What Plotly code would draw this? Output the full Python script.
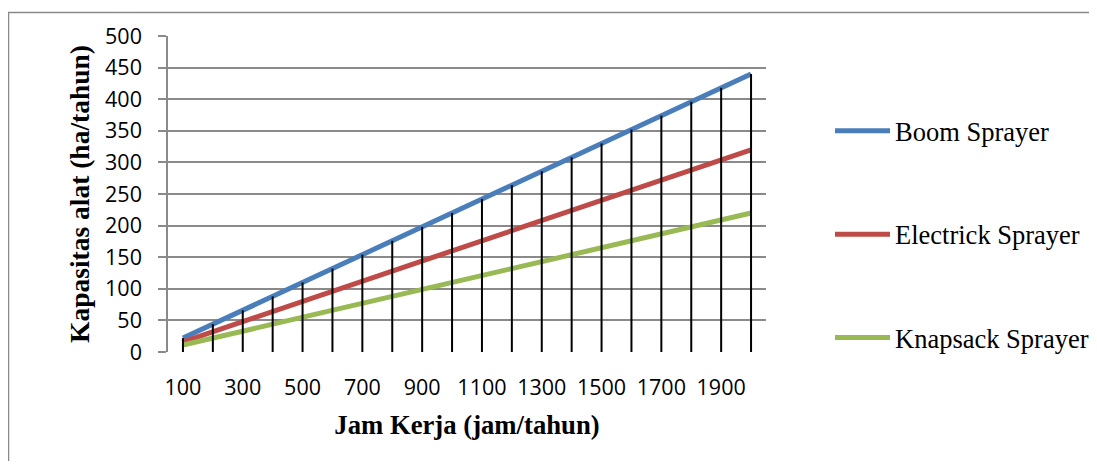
import plotly.graph_objects as go

jam_kerja = [100, 200, 300, 400, 500, 600, 700, 800, 900, 1000,
             1100, 1200, 1300, 1400, 1500, 1600, 1700, 1800, 1900, 2000]
boom = [22, 44, 66, 88, 110, 132, 154, 176, 198, 220,
        242, 264, 286, 308, 330, 352, 374, 396, 418, 440]
electrick = [16, 32, 48, 64, 80, 96, 112, 128, 144, 160,
             176, 192, 208, 224, 240, 256, 272, 288, 304, 320]
knapsack = [11, 22, 33, 44, 55, 66, 77, 88, 99, 110,
            121, 132, 143, 154, 165, 176, 187, 198, 209, 220]
x_ticks = [100, 300, 500, 700, 900, 1100, 1300, 1500, 1700, 1900]
y_ticks = [0, 50, 100, 150, 200, 250, 300, 350, 400, 450, 500]

series = [
    ("Boom Sprayer", boom, "#4A7EBB"),
    ("Electrick Sprayer", electrick, "#BE4B48"),
    ("Knapsack Sprayer", knapsack, "#98B954"),
]

fig = go.Figure()
for i, (name, vals, color) in enumerate(series):
    fig.add_trace(go.Scatter(
        x=jam_kerja, y=vals, mode="lines", name=name,
        line=dict(color=color, width=5),
        legendgroup=f"g{i}",
    ))

# drop lines from highest series down to the axis
dx, dy = [], []
for xv, yv in zip(jam_kerja, boom):
    dx += [xv, xv, None]
    dy += [0, yv, None]
fig.add_trace(go.Scatter(x=dx, y=dy, mode="lines", showlegend=False,
                         line=dict(color="black", width=2), hoverinfo="skip"))

grid = "#8A8A8A"
fig.update_layout(
    width=1081, height=453,
    margin=dict(l=160, r=323, t=28, b=109),
    paper_bgcolor="white", plot_bgcolor="white",
    font=dict(family="Liberation Serif", color="black"),
    legend=dict(
        xref="container", yref="container",
        x=0.7604, y=0.7815, xanchor="left", yanchor="top",
        font=dict(family="Liberation Serif", size=26.5, color="black"),
        tracegroupgap=66, itemwidth=55, bgcolor="rgba(0,0,0,0)",
        maxheight=1,
    ),
    xaxis=dict(
        range=[50, 2050], tickvals=x_ticks, ticktext=[str(v) for v in x_ticks],
        showgrid=False, zeroline=False, showline=False, ticks="",
        tickfont=dict(family="Open Sans", size=21.5, color="black"),
        ticklabelstandoff=20,
        title=dict(text="<b>Jam Kerja (jam/tahun)</b>",
                   font=dict(family="Liberation Serif", size=26.7, color="black"),
                   standoff=15),
    ),
    yaxis=dict(
        range=[0, 500], tickvals=y_ticks,
        showgrid=True, gridcolor=grid, gridwidth=1.5,
        zeroline=False, showline=True, linecolor=grid, linewidth=1.5,
        ticks="outside", ticklen=8, tickcolor=grid, tickwidth=1.5,
        tickfont=dict(family="Open Sans", size=21.5, color="black"),
        ticklabelstandoff=12,
        title=dict(text="<b>Kapasitas alat (ha/tahun)</b>",
                   font=dict(family="Liberation Serif", size=27.5, color="black"),
                   standoff=7),
    ),
    shapes=[dict(type="rect", xref="paper", yref="paper",
                 x0=-0.2667, x1=2, y0=-2, y1=1.0744,
                 line=dict(color="#8A8A8A", width=1.5), layer="below")],
)

fig.write_html("out.html")
